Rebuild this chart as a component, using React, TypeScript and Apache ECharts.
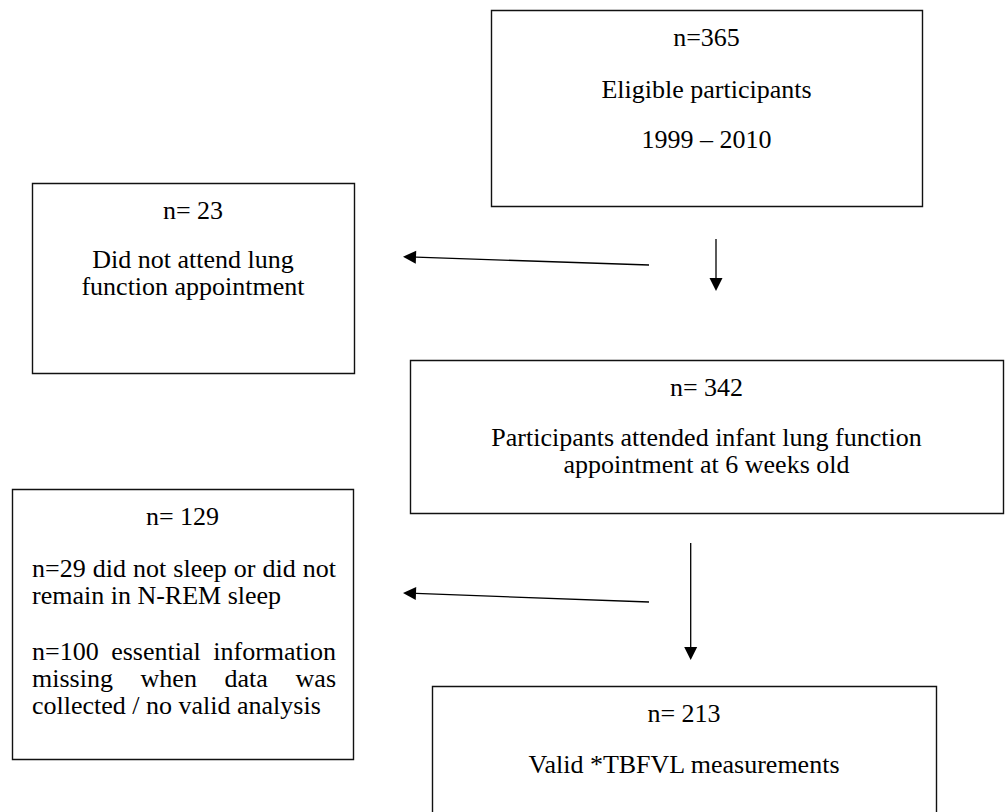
import React, { useEffect, useRef } from "react";
import * as echarts from "echarts";

// ---- content ----
const boxHeadings = ["n=365", "n= 23", "n= 342", "n= 129", "n= 213"];
const boxLines: string[][] = [
  ["Eligible participants", "1999 – 2010"],
  ["Did not attend lung", "function appointment"],
  ["Participants attended infant lung function", "appointment at 6 weeks old"],
  [
    "n=29 did not sleep or did not",
    "remain in N-REM sleep",
    "n=100 essential information",
    "missing when data was",
    "collected / no valid analysis",
  ],
  ["Valid *TBFVL measurements"],
];
// how each line is aligned ("center", "left", "justify")
const lineAlign: string[][] = [
  ["center", "center"],
  ["center", "center"],
  ["center", "center"],
  ["justify", "left", "justify", "justify", "left"],
  ["center"],
];

// ---- layout ----
const boxRects = [
  [491, 10, 431, 196],
  [32, 183, 322, 190],
  [410, 360, 593, 153],
  [12, 489, 341, 270],
  [432, 686, 504, 160],
];
const headingY = [37, 210, 387, 516, 713];
const lineY = [
  [89, 139],
  [259, 286],
  [437, 464],
  [568, 595, 651, 678, 705],
  [764],
];
const textLeftPad = [20, 20, 20, 20, 20];
const textRightPad = [17, 17, 17, 17, 17];
const arrows = [
  { from: [649, 265], to: [403, 256.7] },
  { from: [716, 239], to: [716, 291] },
  { from: [649, 602], to: [403, 593] },
  { from: [690.7, 543], to: [690.7, 660] },
];

const FONT_SIZE = 26;
const FONT_FAMILY = '"Liberation Serif", "Times New Roman", serif';

function buildGraphic() {
  const canvas = document.createElement("canvas");
  const ctx = canvas.getContext("2d") as CanvasRenderingContext2D;
  ctx.font = `${FONT_SIZE}px ${FONT_FAMILY}`;
  const els: any[] = [];
  const textStyle = (s: string, align: string) => ({
    text: s,
    fill: "#000",
    font: `${FONT_SIZE}px ${FONT_FAMILY}`,
    align,
    verticalAlign: "middle",
  });

  boxRects.forEach((r, i) => {
    const [x, y, w, h] = r;
    els.push({
      type: "rect",
      shape: { x: x + 0.5, y: y + 0.5, width: w, height: h },
      style: { fill: "#fff", stroke: "#111", lineWidth: 1.4 },
    });
    const cx = x + w / 2;
    els.push({ type: "text", x: cx, y: headingY[i], style: textStyle(boxHeadings[i], "center") });
    const left = x + textLeftPad[i];
    const right = x + w - textRightPad[i];
    boxLines[i].forEach((line, j) => {
      const al = lineAlign[i][j];
      const ly = lineY[i][j];
      if (al === "center") {
        els.push({ type: "text", x: cx, y: ly, style: textStyle(line, "center") });
      } else if (al === "left") {
        els.push({ type: "text", x: left, y: ly, style: textStyle(line, "left") });
      } else {
        const words = line.split(" ");
        const widths = words.map((wd) => ctx.measureText(wd).width);
        const total = widths.reduce((a, b) => a + b, 0);
        const gap = words.length > 1 ? (right - left - total) / (words.length - 1) : 0;
        let cur = left;
        words.forEach((wd, k) => {
          els.push({ type: "text", x: cur, y: ly, style: textStyle(wd, "left") });
          cur += widths[k] + gap;
        });
      }
    });
  });

  arrows.forEach((a) => {
    const [x1, y1] = a.from;
    const [x2, y2] = a.to;
    const dx = x2 - x1;
    const dy = y2 - y1;
    const len = Math.sqrt(dx * dx + dy * dy);
    const ux = dx / len;
    const uy = dy / len;
    const headLen = 13;
    const headHalf = 6.5;
    const bx = x2 - ux * headLen;
    const by = y2 - uy * headLen;
    els.push({
      type: "line",
      shape: { x1, y1, x2: bx, y2: by },
      style: { stroke: "#000", lineWidth: 1.3 },
    });
    els.push({
      type: "polygon",
      shape: {
        points: [
          [x2, y2],
          [bx - uy * headHalf, by + ux * headHalf],
          [bx + uy * headHalf, by - ux * headHalf],
        ],
      },
      style: { fill: "#000" },
    });
  });
  return els;
}

export default function App() {
  const ref = useRef<HTMLDivElement>(null);
  useEffect(() => {
    document.body.style.margin = "0";
    const chart = echarts.init(ref.current as HTMLDivElement, null, { renderer: "svg" });
    chart.setOption({
      animation: false,
      backgroundColor: "#fff",
      graphic: { elements: buildGraphic() },
    });
    return () => chart.dispose();
  }, []);
  return <div ref={ref} style={{ width: 1005, height: 812, position: "absolute", left: 0, top: 0 }} />;
}
